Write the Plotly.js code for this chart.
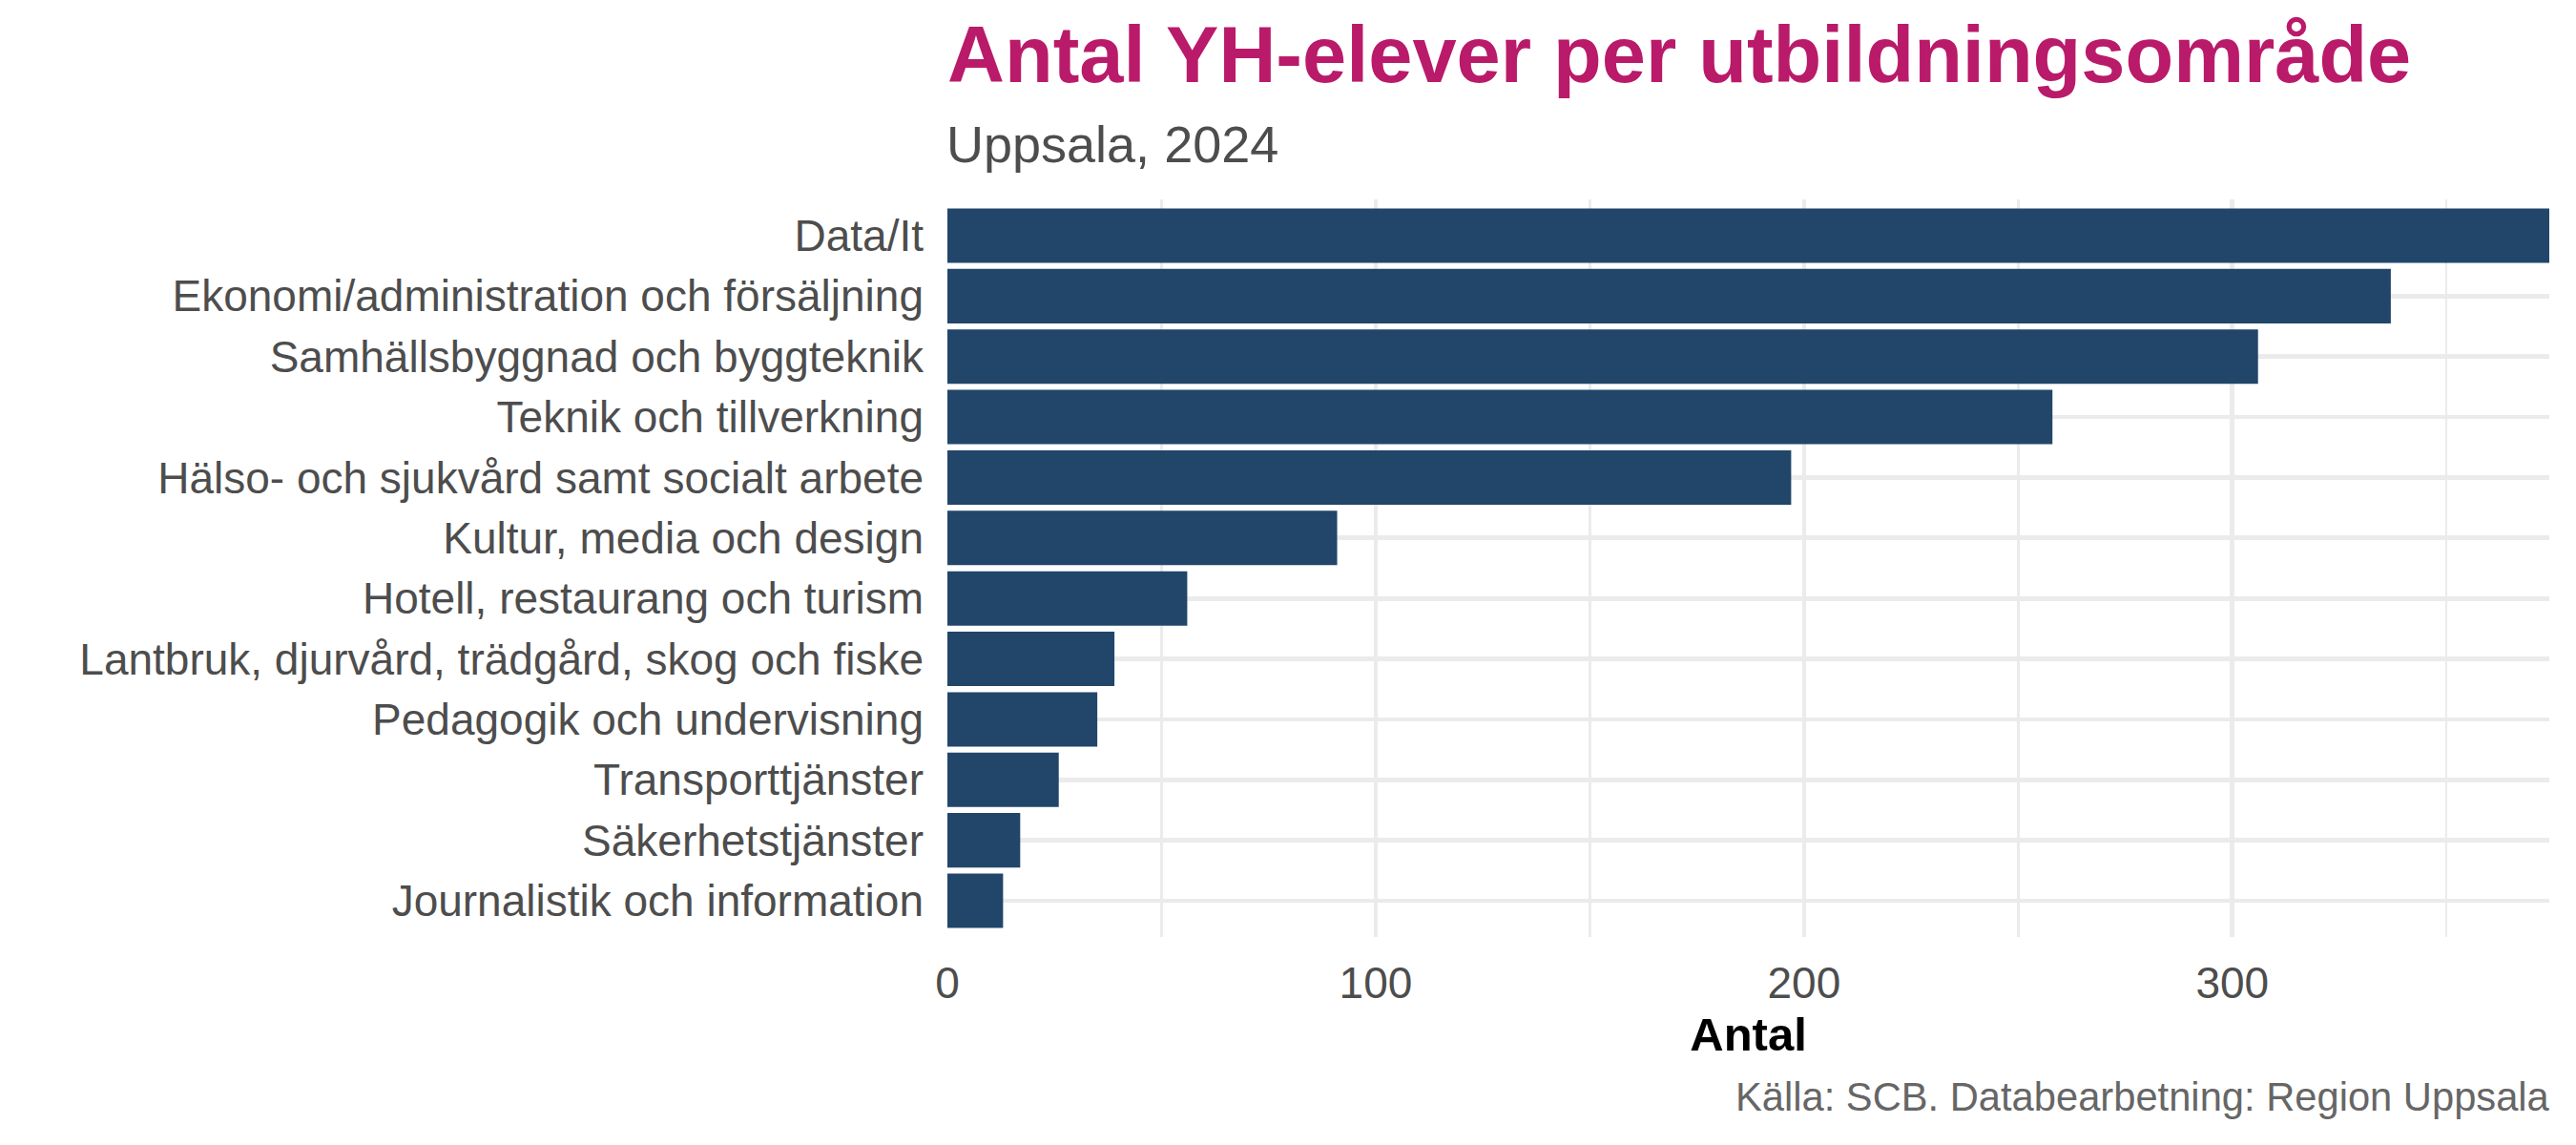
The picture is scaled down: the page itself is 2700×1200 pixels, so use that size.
<!DOCTYPE html>
<html>
<head>
<meta charset="utf-8">
<script src="https://cdn.plot.ly/plotly-3.0.1.min.js"></script>
<style>
  html, body { margin: 0; padding: 0; background: #ffffff; }
  #chart { width: 2700px; height: 1200px; }
</style>
</head>
<body>
<div id="chart"></div>
<script>
// Categories, top to bottom as shown
const categories = [
  "Data/It",
  "Ekonomi/administration och försäljning",
  "Samhällsbyggnad och byggteknik",
  "Teknik och tillverkning",
  "Hälso- och sjukvård samt socialt arbete",
  "Kultur, media och design",
  "Hotell, restaurang och turism",
  "Lantbruk, djurvård, trädgård, skog och fiske",
  "Pedagogik och undervisning",
  "Transporttjänster",
  "Säkerhetstjänster",
  "Journalistik och information"
];
// Number of YH students per area (Uppsala, 2024)
const antal = [374, 337, 306, 258, 197, 91, 56, 39, 35, 26, 17, 13];
// x-axis ticks
const xTicks = [0, 100, 200, 300];
const xTickLabels = ["0", "100", "200", "300"];

const titleText = "Antal YH-elever per utbildningsområde";
const subtitleText = "Uppsala, 2024";
const xTitleText = "Antal";
const captionText = "Källa: SCB. Databearbetning: Region Uppsala";

const FONT = "Liberation Sans, Arial, Helvetica, sans-serif";
const W = 2700, H = 1200;
const L = 993, R = 28, T = 209, B = 218;

const trace = {
  type: "bar",
  orientation: "h",
  x: antal,
  y: categories,
  width: 0.9,
  marker: { color: "#21466A", line: { width: 0 } },
  hoverinfo: "x+y"
};

const layout = {
  width: W, height: H,
  paper_bgcolor: "#ffffff",
  plot_bgcolor: "#ffffff",
  showlegend: false,
  margin: { l: L, r: R, t: T, b: B, pad: 0 },
  font: { family: FONT, color: "#4d4d4d" },
  title: {
    text: titleText,
    font: { family: FONT, size: 83, color: "#BA1A6A", weight: "bold" },
    xref: "paper", x: 0, xanchor: "left",
    yref: "container", y: 1 - 57 / H, yanchor: "middle"
  },
  xaxis: {
    range: [0, Math.max(...antal)],
    tickvals: xTicks,
    ticktext: xTickLabels,
    ticks: "",
    showline: false,
    zeroline: false,
    showgrid: true,
    gridcolor: "#EBEBEB",
    gridwidth: 4.7,
    minor: { dtick: 50, tick0: 0, showgrid: true, gridcolor: "#EBEBEB", gridwidth: 2.4, ticks: "" },
    tickfont: { family: FONT, size: 46, color: "#4d4d4d" },
    ticklabelstandoff: 17,
    title: {
      text: xTitleText,
      font: { family: FONT, size: 49, color: "#000000", weight: "bold" },
      standoff: 11
    },
    fixedrange: true
  },
  yaxis: {
    type: "category",
    categoryorder: "array",
    categoryarray: categories,
    range: [categories.length - 0.4, -0.6],
    ticks: "",
    showline: false,
    zeroline: false,
    showgrid: true,
    gridcolor: "#EBEBEB",
    gridwidth: 4.7,
    tickfont: { family: FONT, size: 46, color: "#4d4d4d" },
    ticklabelstandoff: 24,
    fixedrange: true
  },
  annotations: [
    {
      text: subtitleText,
      xref: "paper", x: 0, xanchor: "left",
      yref: "paper", y: 1 + (T - 151) / (H - T - B), yanchor: "middle",
      showarrow: false, xshift: -3,
      font: { family: FONT, size: 54, color: "#4d4d4d" }
    },
    {
      text: captionText,
      xref: "paper", x: 1, xanchor: "right",
      yref: "paper", y: -(1149 - (H - B)) / (H - T - B), yanchor: "middle",
      showarrow: false, xshift: 3,
      font: { family: FONT, size: 41.7, color: "#666666" }
    }
  ]
};

Plotly.newPlot("chart", [trace], layout, { displayModeBar: false, staticPlot: true });
</script>
</body>
</html>
